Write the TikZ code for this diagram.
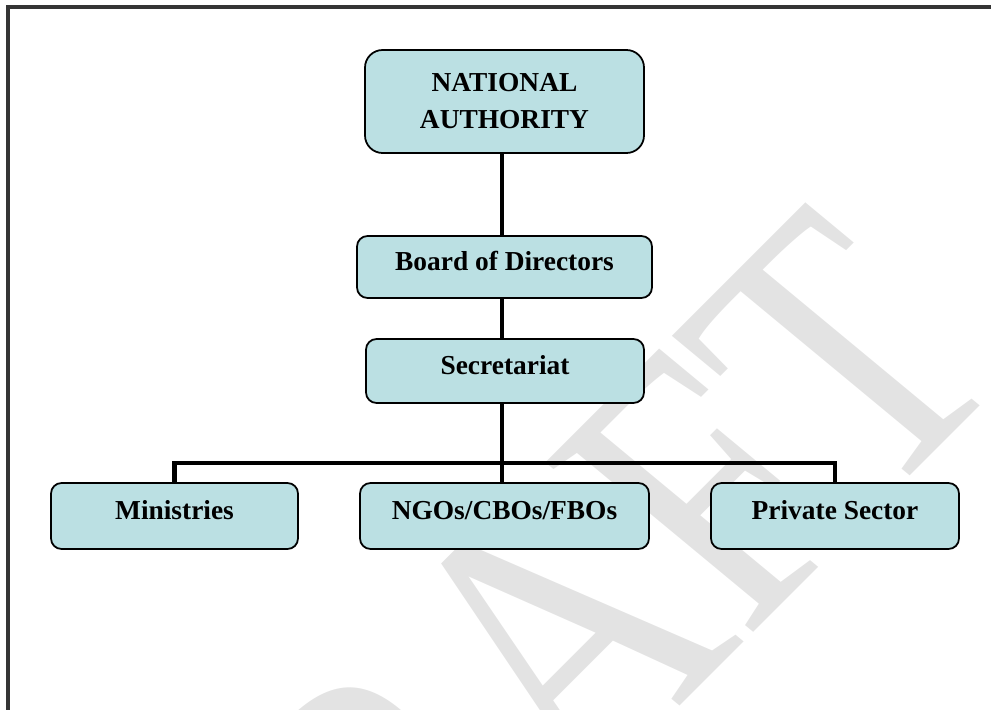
\documentclass[tikz,border=0pt]{standalone}
\usepackage{fontspec}
\setmainfont{Liberation Serif}
\usetikzlibrary{positioning}

\definecolor{boxfill}{HTML}{BBE0E3}
\definecolor{framegray}{HTML}{353535}

\tikzset{
    unit/.style={draw=black, line width=1pt, rounded corners=6pt, fill=boxfill,
        align=center, font=\fontsize{15.6}{21}\selectfont\bfseries,
        text height=0.68em, text depth=0.25em},
    link/.style={line width=2.6pt, black}
}

\begin{document}
\begin{tikzpicture}[x=0.02cm, y=-0.02cm]
    \useasboundingbox (0,0) rectangle (991,710);
    % Watermark
    \begin{scope}
        \clip (0,0) rectangle (991,710);
        \node[cm={0.566,0.566,-0.770,0.638,(0,0)}, anchor=base east, inner sep=0pt,
              text=gray!22, font=\fontsize{233}{233}\selectfont] (draft) at (1016,370) {DRAFT};
    \end{scope}
    % Frame
    \draw[framegray, line width=2.3pt] (8,710) -- (8,7) -- (991,7);
    % Define nodes
    \node[unit, rounded corners=10pt, minimum width=279*0.02cm, minimum height=103*0.02cm,
          text height=, text depth=] (na) at (504.5,101.5) {NATIONAL\\AUTHORITY};
    \node[unit, minimum width=295*0.02cm, minimum height=62*0.02cm] (board) at (504.5,267) {Board of Directors};
    \node[unit, minimum width=278*0.02cm, minimum height=64*0.02cm] (sec) at (505,371) {Secretariat};
    \node[unit, minimum width=247*0.02cm, minimum height=66*0.02cm] (min) at (174.5,516) {Ministries};
    \node[unit, minimum width=289*0.02cm, minimum height=66*0.02cm] (ngo) at (504.5,516) {NGOs/CBOs/FBOs};
    \node[unit, minimum width=248*0.02cm, minimum height=66*0.02cm] (priv) at (835,516) {Private Sector};
    \coordinate (bar) at (502,463);
    % Draw edges
    \draw[link] (na.south -| bar) -- (board.north -| bar);
    \draw[link] (board.south -| bar) -- (sec.north -| bar);
    \draw[link] (sec.south -| bar) -- (bar);
    \draw[link] (min.north) |- (bar) -| (priv.north);
    \draw[link] (bar) -- (ngo.north -| bar);
\end{tikzpicture}
\end{document}
